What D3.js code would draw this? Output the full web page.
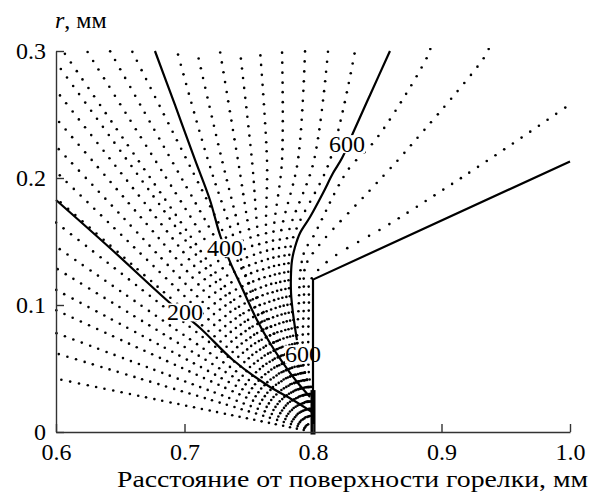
<!DOCTYPE html>
<html>
<head>
<meta charset="utf-8">
<script src="https://cdn.jsdelivr.net/npm/d3@7"></script>
<style>
  body { margin: 0; background: #fff; }
</style>
</head>
<body>
<div id="chart"></div>
<script>
// axis ticks
const xTicks = [0.6, 0.7, 0.8, 0.9, 1.0];
const yTicks = [0, 0.1, 0.2, 0.3];

// streamlines that leave through the left edge (x = 0.6): start r at the wall, end r at the edge
const leftStartR = [0.0, 0.001, 0.002, 0.003, 0.004, 0.005, 0.006, 0.007, 0.008, 0.009, 0.010, 0.011, 0.012, 0.013];
const leftEdgeR = [0.042, 0.062, 0.078, 0.096, 0.112, 0.129, 0.146, 0.165, 0.184, 0.205, 0.225, 0.247, 0.269, 0.291];

// streamlines that leave through the top edge left of the 400 isotherm
const topLeftStartR = [0.014, 0.015, 0.016, 0.017];
const topLeftX = [0.6054, 0.6241, 0.642, 0.6591];

// streamlines between the 400 and 600 isotherms (x at given r levels)
const midStartR = [0.018, 0.019, 0.020, 0.021, 0.022, 0.023, 0.024, 0.025, 0.026];
const midX072 = [0.765, 0.7681, 0.7712, 0.7743, 0.7774, 0.7805, 0.7829, 0.7852, 0.7875];
const midX143 = [0.7416, 0.7471, 0.7533, 0.7588, 0.7642, 0.7689, 0.7735, 0.7782, 0.7821];
const midX214 = [0.7183, 0.7292, 0.7416, 0.7525, 0.7642, 0.7759, 0.7883, 0.8008, 0.8132];
const midTopX = [0.6942, 0.7097, 0.7276, 0.7432, 0.7588, 0.7759, 0.7938, 0.8117, 0.8327];

// streamlines running up along the burner wall and out past the corner
const wallLine1 = [[0.8, 0.029], [0.7969, 0.045], [0.7969, 0.104], [0.7975, 0.118], [0.8109, 0.134], [0.8615, 0.165], [0.9362, 0.214], [1.0, 0.258], [1.01, 0.265]];
const wallLine2 = [[0.8, 0.030], [0.793, 0.05], [0.793, 0.104], [0.794, 0.13], [0.8031, 0.145], [0.8482, 0.1945], [0.8724, 0.2213], [0.9354, 0.2984], [0.9375, 0.305]];
const wallLine3 = [[0.8, 0.031], [0.7891, 0.05], [0.7891, 0.104], [0.7906, 0.13], [0.7938, 0.1433], [0.8, 0.1535], [0.8272, 0.2063], [0.8467, 0.2276], [0.8661, 0.2559], [0.8903, 0.2984], [0.892, 0.305]];

// isotherms
const contour200 = [[0.6, 0.1827], [0.642, 0.1449], [0.6887, 0.1016], [0.7121, 0.0819], [0.7377, 0.0567], [0.7642, 0.037], [0.7844, 0.0252], [0.7992, 0.0157]];
const contour400 = [[0.677, 0.3], [0.6926, 0.2575], [0.7082, 0.2142], [0.7198, 0.1827], [0.7276, 0.1551], [0.7354, 0.1339], [0.7455, 0.1118], [0.7564, 0.0882], [0.7665, 0.0701], [0.7767, 0.0543], [0.7876, 0.0394], [0.7977, 0.0276]];
const contour600 = [[0.8599, 0.3], [0.8444, 0.2654], [0.8311, 0.2354], [0.8226, 0.2157], [0.8156, 0.2039], [0.8078, 0.1882], [0.7977, 0.1693], [0.7899, 0.1567], [0.786, 0.1457], [0.7837, 0.1354], [0.7829, 0.1252], [0.7829, 0.1094], [0.7844, 0.0937], [0.7875, 0.0724]];
const contourLabels = [
  { text: '200', x: 0.7004, r: 0.0945 },
  { text: '400', x: 0.7315, r: 0.145 },
  { text: '600', x: 0.8265, r: 0.227 },
  { text: '600', x: 0.7922, r: 0.0614 },
];

// burner edge and outlet
const burnerEdge = [[0.8, 0], [0.8, 0.12], [1.0, 0.213]];
const outlet = [[0.8, -0.002], [0.8, 0.033]];

const width = 596;
const height = 492;
const margin = { t: 51, r: 26, b: 60, l: 56 };
const fontSize = 24;
const serif = '"Liberation Serif", "Times New Roman", monospace';

const svg = d3
  .select('#chart')
  .append('svg')
  .attr('width', width)
  .attr('height', height);

const x = d3.scaleLinear().domain([0.6, 1.0]).range([margin.l, width - margin.r]);
const y = d3.scaleLinear().domain([0, 0.3]).range([height - margin.b, margin.t]);

svg
  .append('clipPath')
  .attr('id', 'plot')
  .append('rect')
  .attr('x', x(0.6) - 1)
  .attr('y', y(0.3) - 3)
  .attr('width', x(1.0) - x(0.6) + 3)
  .attr('height', y(0) - y(0.3) + 6);

// build the list of streamlines
const streamlines = [];
leftEdgeR.forEach((r, i) => streamlines.push([[0.8, leftStartR[i]], [0.6, r]]));
topLeftX.forEach((xv, i) => streamlines.push([[0.8, topLeftStartR[i]], [xv, 0.3]]));
midTopX.forEach((xv, i) =>
  streamlines.push([[0.8, midStartR[i]], [midX072[i], 0.0724], [midX143[i], 0.1433], [midX214[i], 0.214], [xv, 0.3]]),
);
streamlines.push(wallLine1, wallLine2, wallLine3);

const line = d3
  .line()
  .x((d) => x(d[0]))
  .y((d) => y(d[1]))
  .curve(d3.curveCatmullRom.alpha(0.5));

// dots sit on equal-radius arcs around the outlet (like time marks)
const cx = x(0.8);
const cy = y(0);
const radii = [];
for (let rr = 2; rr < 900; rr += 7 + 0.008 * rr) radii.push(rr);

const dots = [];
streamlines.forEach((pts) => {
  const tmp = svg.append('path').attr('d', line(pts)).attr('fill', 'none');
  const node = tmp.node();
  const len = node.getTotalLength();
  const p0 = node.getPointAtLength(0);
  dots.push([p0.x, p0.y]);
  const d0 = Math.hypot(p0.x - cx, p0.y - cy);
  let k = 0;
  while (k < radii.length && radii[k] <= d0 + 3) k++;
  for (let s = 0.5; s <= len && k < radii.length; s += 0.5) {
    const p = node.getPointAtLength(s);
    const d = Math.hypot(p.x - cx, p.y - cy);
    if (d >= radii[k]) {
      dots.push([p.x, p.y]);
      while (k < radii.length && radii[k] <= d) k++;
    }
  }
  tmp.remove();
});

svg
  .append('g')
  .attr('clip-path', 'url(#plot)')
  .selectAll('circle')
  .data(dots)
  .join('circle')
  .attr('cx', (d) => d[0])
  .attr('cy', (d) => d[1])
  .attr('r', 1.3)
  .attr('fill', '#000');

// isotherms
svg
  .append('g')
  .selectAll('path')
  .data([contour200, contour400, contour600])
  .join('path')
  .attr('d', line)
  .attr('fill', 'none')
  .attr('stroke', '#000')
  .attr('stroke-width', 2.2);

// labels with white boxes
const labelG = svg.append('g');
contourLabels.forEach((d) => {
  const g = labelG.append('g');
  const t = g
    .append('text')
    .attr('x', x(d.x))
    .attr('y', y(d.r))
    .attr('dy', '0.35em')
    .attr('text-anchor', 'middle')
    .style('font-family', serif)
    .style('font-size', `${fontSize}px`)
    .text(d.text);
  const bb = t.node().getBBox();
  g.insert('rect', 'text')
    .attr('x', bb.x)
    .attr('y', bb.y + 4)
    .attr('width', bb.width)
    .attr('height', bb.height - 8)
    .attr('fill', '#fff');
});

// burner
const edgeLine = d3
  .line()
  .x((d) => x(d[0]))
  .y((d) => y(d[1]));
svg
  .append('path')
  .attr('d', edgeLine(burnerEdge))
  .attr('fill', 'none')
  .attr('stroke', '#000')
  .attr('stroke-width', 2.2);
svg
  .append('path')
  .attr('d', edgeLine(outlet))
  .attr('fill', 'none')
  .attr('stroke', '#000')
  .attr('stroke-width', 5);

// axes
const fmt = (d) => (d === 0 ? '0' : d.toFixed(1));
const gx = svg
  .append('g')
  .attr('transform', `translate(0, ${y(0)})`)
  .call(d3.axisBottom(x).tickValues(xTicks).tickFormat(fmt).tickSizeInner(-8).tickSizeOuter(0).tickPadding(11));
const gy = svg
  .append('g')
  .attr('transform', `translate(${x(0.6)}, 0)`)
  .call(d3.axisLeft(y).tickValues(yTicks).tickFormat(fmt).tickSizeInner(-8).tickSizeOuter(0).tickPadding(10));

[gx, gy].forEach((g) => {
  g.selectAll('.domain').attr('stroke', '#333').attr('stroke-width', 1.4);
  g.selectAll('.tick line').attr('stroke', '#333').attr('stroke-width', 1.4);
  g.selectAll('.tick text')
    .style('font-family', serif)
    .style('font-size', `${fontSize}px`)
    .attr('fill', '#000');
});

// axis titles
svg
  .append('text')
  .attr('x', 117)
  .attr('y', 487)
  .attr('textLength', 471)
  .attr('lengthAdjust', 'spacingAndGlyphs')
  .style('font-family', serif)
  .style('font-size', `${fontSize}px`)
  .text('Расстояние от поверхности горелки, мм');

const yt = svg
  .append('text')
  .attr('x', 55)
  .attr('y', 28)
  .style('font-family', serif)
  .style('font-size', `${fontSize}px`);
yt.append('tspan').style('font-style', 'italic').text('r');
yt.append('tspan').text(', мм');
</script>
</body>
</html>
